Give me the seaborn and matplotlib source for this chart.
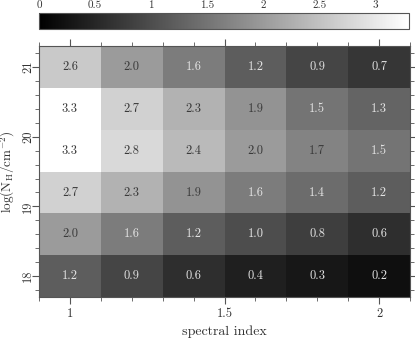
import matplotlib
matplotlib.use("Agg")
from matplotlib import pyplot as plt
import numpy as np
import pandas as pd
import seaborn as sns

# grid of the model: columns = spectral index, rows = log(N_H)
spectral_index = [1.0, 1.2, 1.4, 1.6, 1.8, 2.0]
log_nh = [21.0, 20.4, 19.8, 19.2, 18.6, 18.0]
values = [
    [2.6, 2.0, 1.6, 1.2, 0.9, 0.7],
    [3.3, 2.7, 2.3, 1.9, 1.5, 1.3],
    [3.3, 2.8, 2.4, 2.0, 1.7, 1.5],
    [2.7, 2.3, 1.9, 1.6, 1.4, 1.2],
    [2.0, 1.6, 1.2, 1.0, 0.8, 0.6],
    [1.2, 0.9, 0.6, 0.4, 0.3, 0.2],
]
cbar_ticks = [0, 0.5, 1, 1.5, 2, 2.5, 3]
x_ticks = [1, 1.5, 2]
y_ticks = [18, 19, 20, 21]

sns.set_style("ticks")
plt.rcParams['font.family'] = ['cmr10', 'DejaVu Serif']
plt.rcParams['mathtext.fontset'] = 'cm'
plt.rcParams['axes.formatter.use_mathtext'] = True

df = pd.DataFrame(values, index=log_nh, columns=spectral_index)

fig = plt.figure(figsize=(4.15, 3.39), dpi=100)
ax = fig.add_axes([0.094, 0.124, 0.894, 0.740])
cax = fig.add_axes([0.094, 0.915, 0.892, 0.046])

sns.heatmap(df, ax=ax, cmap='gray', vmin=0, vmax=3.3, annot=True, fmt='.1f',
            annot_kws={'fontsize': 9}, cbar_ax=cax,
            cbar_kws={'orientation': 'horizontal'})

# text colour: dark on light cells, light on dark cells
for txt in ax.texts:
    v = float(txt.get_text())
    txt.set_color('#3a3a3a' if v >= 1.65 else '#e2e2e2')

# map data values to heatmap cell coordinates
dx = spectral_index[1] - spectral_index[0]
dy = log_nh[0] - log_nh[1]
def xpos(v):
    return (v - spectral_index[0]) / dx + 0.5
def ypos(v):
    return (log_nh[0] - v) / dy + 0.5

ax.set_xticks([xpos(v) for v in x_ticks])
ax.set_xticklabels([f"{v:g}" for v in x_ticks], rotation=0)
ax.set_xticks([xpos(v) for v in np.arange(0.9, 2.11, 0.1)], minor=True)
ax.set_yticks([ypos(v) for v in y_ticks])
ax.set_yticklabels([str(v) for v in y_ticks], rotation=90, va='center')
ax.set_yticks([ypos(v) for v in np.arange(17.8, 21.31, 0.2)], minor=True)

for side in ['top', 'right', 'bottom', 'left']:
    ax.spines[side].set_visible(True)
    ax.spines[side].set_color('#555555')
    ax.spines[side].set_linewidth(0.8)
ax.tick_params(which='both', direction='out', top=True, right=True,
               color='#555555', labelsize=9, labelcolor='#333333')
ax.tick_params(axis='x', pad=3)
ax.tick_params(axis='y', pad=-1.5)
ax.tick_params(which='major', length=5, width=0.8)
ax.tick_params(which='minor', length=3, width=0.6)

ax.set_xlabel('spectral index', fontsize=10, color='#333333', labelpad=4)
ax.set_ylabel(r'$\mathrm{log(N_H/cm^{-2})}$', fontsize=9.5, color='#333333')
ax.yaxis.set_label_coords(-0.058, 0.5)

# colorbar on top
cbar = ax.collections[0].colorbar
cbar.set_ticks(cbar_ticks)
cbar.set_ticklabels([f"{v:g}" for v in cbar_ticks])
cax.xaxis.set_minor_locator(matplotlib.ticker.MultipleLocator(0.1))
cax.tick_params(which='both', direction='in', top=True, bottom=True,
                labeltop=True, labelbottom=False, color='#555555',
                labelsize=8, labelcolor='#333333', pad=2)
cax.tick_params(which='major', length=4, width=0.7)
cax.tick_params(which='minor', length=2.5, width=0.5)
cbar.outline.set_edgecolor('#555555')
cbar.outline.set_linewidth(0.8)

fig.savefig('out.png', dpi=100)
